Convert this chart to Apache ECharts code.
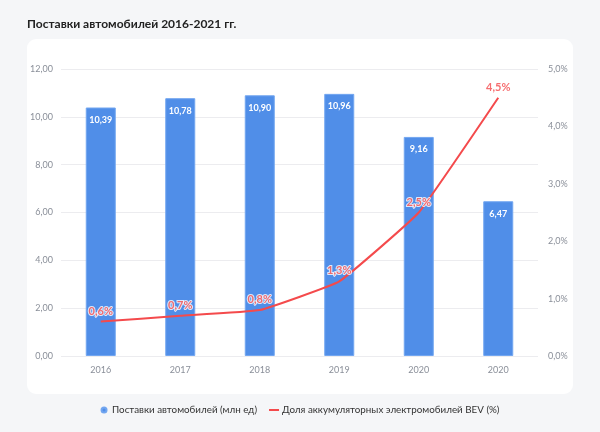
<!DOCTYPE html>
<html>
<head>
<meta charset="utf-8">
<script src="https://cdn.jsdelivr.net/npm/echarts@6/dist/echarts.min.js"></script>
<style>
  html, body { margin: 0; padding: 0; background: #f5f6f8; }
  #chart { width: 600px; height: 432px; }
</style>
</head>
<body>
<div id="chart"></div>
<script>
// data
const years = ['2016', '2017', '2018', '2019', '2020', '2020'];
const deliveries = [10.39, 10.78, 10.90, 10.96, 9.16, 6.47]; // млн ед
const bevShare = [0.6, 0.7, 0.8, 1.3, 2.5, 4.5]; // %

const FONT = 'Lato, "Open Sans", sans-serif';
const RED = '#f44a4c';
const comma = (v, d) => v.toFixed(d).replace('.', ',');

const chart = echarts.init(document.getElementById('chart'));

chart.setOption({
  backgroundColor: '#f5f6f8',
  textStyle: { fontFamily: FONT },
  title: {
    text: 'Поставки автомобилей 2016-2021 гг.',
    left: 22,
    top: 13,
    textStyle: { fontSize: 12, fontWeight: 'bold', color: '#222', fontFamily: FONT },
  },
  graphic: [
    {
      type: 'rect',
      z: -10,
      shape: { x: 27, y: 39, width: 546, height: 355, r: 9 },
      style: { fill: '#ffffff' },
    },
  ],
  legend: {
    bottom: 12,
    left: 'center',
    itemGap: 12,
    itemWidth: 10,
    itemHeight: 5,
    textStyle: { fontSize: 9.8, color: '#333', fontFamily: FONT, padding: [0, 0, 0, -2] },
    data: [
      { name: 'Поставки автомобилей (млн ед)', icon: 'circle' },
      { name: 'Доля аккумуляторных электромобилей BEV (%)', icon: 'path://M0,0H10V2H0Z', itemStyle: { color: RED } },
    ],
  },
  grid: { left: 61, right: 62, top: 69, bottom: 76 },
  xAxis: {
    type: 'category',
    data: years,
    axisLine: { show: false },
    axisTick: { show: false },
    axisLabel: { color: '#8a8f99', fontSize: 9, margin: 10 },
  },
  yAxis: [
    {
      type: 'value',
      min: 0,
      max: 12,
      interval: 2,
      axisLabel: { color: '#8a8f99', fontSize: 9, margin: 8, formatter: (v) => comma(v, 2) },
      splitLine: { lineStyle: { color: '#ececef' } },
    },
    {
      type: 'value',
      min: 0,
      max: 5,
      interval: 1,
      axisLabel: { color: '#8a8f99', fontSize: 9, margin: 10, formatter: (v) => comma(v, 1) + '%' },
      splitLine: { show: false },
    },
  ],
  series: [
    {
      name: 'Поставки автомобилей (млн ед)',
      type: 'bar',
      data: deliveries,
      barWidth: 30,
      itemStyle: { color: '#508ee8', borderColor: '#72a6f0', borderWidth: 1 },
      label: {
        show: true,
        position: 'insideTop',
        distance: 8,
        color: '#fff',
        fontSize: 9,
        fontWeight: 'bold',
        fontFamily: FONT,
        formatter: (p) => comma(p.value, 2),
      },
    },
    {
      name: 'Доля аккумуляторных электромобилей BEV (%)',
      type: 'line',
      yAxisIndex: 1,
      data: bevShare,
      smooth: 0.1,
      symbol: 'none',
      lineStyle: { color: RED, width: 2 },
      itemStyle: { color: RED },
      z: 5,
    },
    {
      // labels for the BEV line
      name: 'bevLabels',
      type: 'scatter',
      yAxisIndex: 1,
      data: bevShare,
      symbolSize: 0,
      silent: true,
      label: {
        show: true,
        position: 'top',
        distance: 5,
        color: RED,
        fontSize: 11,
        fontWeight: 'bold',
        fontFamily: FONT,
        textBorderColor: '#fff',
        textBorderWidth: 2,
        formatter: (p) => comma(p.value, 1) + '%',
      },
      z: 6,
    },
  ],
});
</script>
</body>
</html>
